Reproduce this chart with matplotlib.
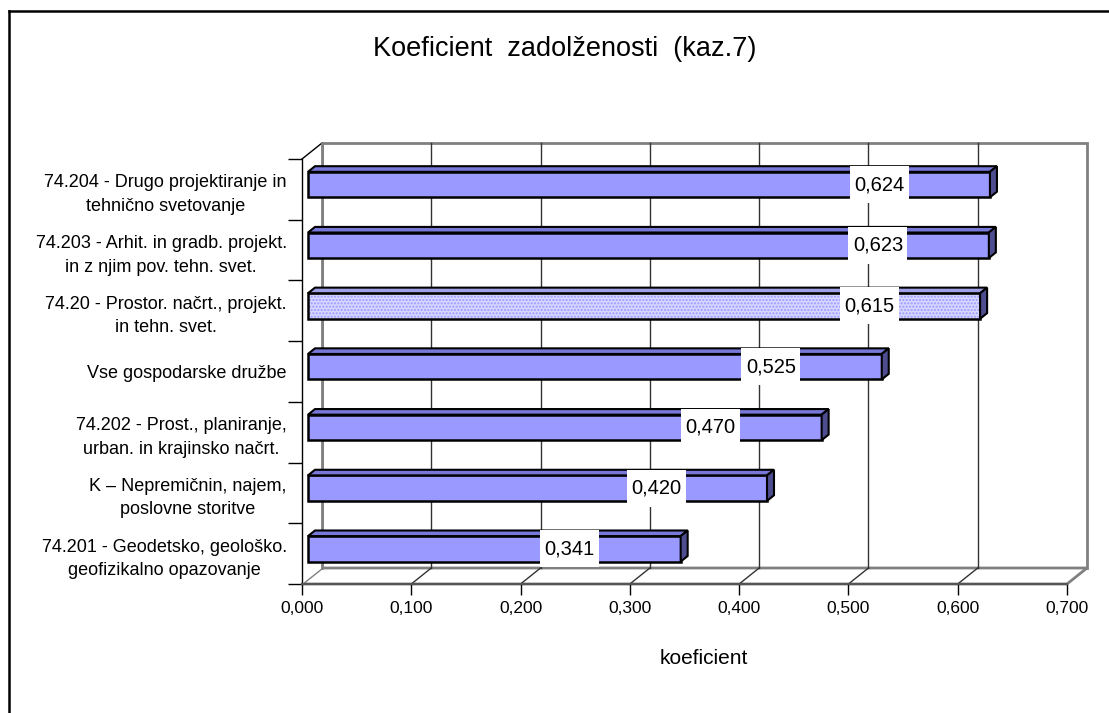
import matplotlib.pyplot as plt
from matplotlib.patches import Polygon, Rectangle
from matplotlib.lines import Line2D
from matplotlib.ticker import FuncFormatter, MultipleLocator

plt.rcParams['font.family'] = ['Liberation Sans', 'DejaVu Sans']

# Data (top to bottom as shown in the chart)
categories = [
    "74.204 - Drugo projektiranje in\ntehnično svetovanje",
    "74.203 - Arhit. in gradb. projekt.\nin z njim pov. tehn. svet.",
    "74.20 - Prostor. načrt., projekt.\nin tehn. svet.",
    "Vse gospodarske družbe",
    "74.202 - Prost., planiranje,\nurban. in krajinsko načrt.",
    "K – Nepremičnin, najem,\nposlovne storitve",
    "74.201 - Geodetsko, geološko.\ngeofizikalno opazovanje",
]
values = [0.624, 0.623, 0.615, 0.525, 0.470, 0.420, 0.341]
highlighted = [False, False, True, False, False, False, False]

title = "Koeficient  zadolženosti  (kaz.7)"
xlabel = "koeficient"
xmax = 0.7

# Figure / axes geometry in pixels
W, H = 1109, 713
AX_L, AX_R, AX_T, AX_B = 302, 1067, 159, 584
DEPTH_PX = (20, 16)          # back wall offset (right, up)
F0, F1 = 0.30, 0.65          # bar front / back depth fractions
BAR_H = 0.42
LABEL_BOX_PX = (59, 37)

fig = plt.figure(figsize=(W / 100, H / 100), dpi=100)
ax = fig.add_axes([AX_L / W, 1 - AX_B / H, (AX_R - AX_L) / W, (AX_B - AX_T) / H])
n = len(categories)
ax.set_xlim(0, xmax)
ax.set_ylim(n - 0.5, -0.5)

# pixel offsets -> data offsets
px_x = xmax / (AX_R - AX_L)
px_y = n / (AX_B - AX_T)
DX = DEPTH_PX[0] * px_x
DY = DEPTH_PX[1] * px_y

y0, y1 = -0.5, n - 0.5
wall = '#808080'

# back wall
ax.add_patch(Polygon([(DX, y0 - DY), (xmax + DX, y0 - DY), (xmax + DX, y1 - DY), (DX, y1 - DY)],
                     closed=True, facecolor='white', edgecolor=wall, lw=2,
                     clip_on=False, zorder=1))
# floor
ax.add_patch(Polygon([(0, y1), (xmax, y1), (xmax + DX, y1 - DY), (DX, y1 - DY)],
                     closed=True, facecolor='white', edgecolor=wall, lw=2,
                     clip_on=False, zorder=1))
# left wall
ax.add_patch(Polygon([(0, y0), (DX, y0 - DY), (DX, y1 - DY), (0, y1)],
                     closed=True, facecolor='white', edgecolor='none',
                     clip_on=False, zorder=1))
ax.plot([0, DX], [y0, y0 - DY], color='black', lw=1, clip_on=False, zorder=2)
ax.plot([DX, DX], [y0 - DY, y1 - DY], color=wall, lw=2, clip_on=False, zorder=2)

# grid lines on back wall and floor
for k in range(1, 7):
    gx = k * 0.1
    ax.plot([gx + DX, gx + DX], [y0 - DY, y1 - DY], color='#333333', lw=1,
            clip_on=False, zorder=2)
    ax.plot([gx, gx + DX], [y1, y1 - DY], color='#333333', lw=1,
            clip_on=False, zorder=2)

# bars
ypos = [i - F0 * DY for i in range(n)]
dd = F1 - F0
bw, bh = LABEL_BOX_PX[0] * px_x, LABEL_BOX_PX[1] * px_y
for i, (v, hl) in enumerate(zip(values, highlighted)):
    yc = ypos[i]
    x0 = F0 * DX
    x1 = x0 + v
    yt = yc - BAR_H / 2
    yb = yc + BAR_H / 2
    if hl:
        ax.barh(yc, v, left=x0, height=BAR_H, color='#D6D6FF', edgecolor='#9999FF',
                lw=0, hatch='.....', zorder=3)
        ax.barh(yc, v, left=x0, height=BAR_H, facecolor='none', edgecolor='black',
                lw=1.8, zorder=4)
        top_c = '#A0A0E6'
    else:
        ax.barh(yc, v, left=x0, height=BAR_H, color='#9999FF', edgecolor='black',
                lw=1.8, zorder=3)
        top_c = '#7878D8'
    ax.add_patch(Polygon([(x0, yt), (x1, yt), (x1 + dd * DX, yt - dd * DY), (x0 + dd * DX, yt - dd * DY)],
                         closed=True, facecolor=top_c, edgecolor='black', lw=1.5, zorder=4))
    ax.add_patch(Polygon([(x1, yt), (x1, yb), (x1 + dd * DX, yb - dd * DY), (x1 + dd * DX, yt - dd * DY)],
                         closed=True, facecolor='#4D4D8F', edgecolor='black', lw=1.5, zorder=4))
    lx = v - 0.096
    ax.add_patch(Rectangle((lx - bw / 2, yc - bh / 2), bw, bh, facecolor='white',
                           edgecolor='none', zorder=5))
    ax.text(lx, yc, f"{v:.3f}".replace('.', ','), ha='center', va='center',
            fontsize=14.5, zorder=6)

# axes styling
for side in ('top', 'right'):
    ax.spines[side].set_visible(False)
ax.spines['left'].set_color('black')
ax.spines['left'].set_linewidth(1)
ax.spines['bottom'].set_color('#555555')
ax.spines['bottom'].set_linewidth(1.5)
for s in ax.spines.values():
    s.set_zorder(5)
ax.patch.set_visible(False)

ax.xaxis.set_major_locator(MultipleLocator(0.1))
ax.xaxis.set_major_formatter(FuncFormatter(lambda x, p: f"{x:.3f}".replace('.', ',')))
ax.tick_params(axis='x', direction='out', length=8, width=1, color='black',
               labelsize=12.5, pad=4)

ax.set_yticks(range(n))
ax.set_yticklabels(categories, fontsize=13, multialignment='center', linespacing=1.5)
ax.set_yticks([i - 0.5 for i in range(n + 1)], minor=True)
ax.tick_params(axis='y', which='major', length=0, pad=11)
ax.tick_params(axis='y', which='minor', length=10, width=1, color='black', direction='out')

ax.set_xlabel(xlabel, fontsize=15)
ax.xaxis.set_label_coords((704 - AX_L) / (AX_R - AX_L), -(658 - AX_B) / (AX_B - AX_T))
ax.xaxis.label.set_va('center')
fig.text(565 / W, 1 - 49 / H, title, ha='center', va='center', fontsize=19.5)

# outer chart frame (left and top visible)
fig.add_artist(Line2D([9 / W, 9 / W], [0, 1 - 11 / H], color='black', lw=1.8,
                      transform=fig.transFigure))
fig.add_artist(Line2D([9 / W, 1], [1 - 11 / H, 1 - 11 / H], color='black', lw=1.8,
                      transform=fig.transFigure))

fig.savefig('out.png', dpi=100)
